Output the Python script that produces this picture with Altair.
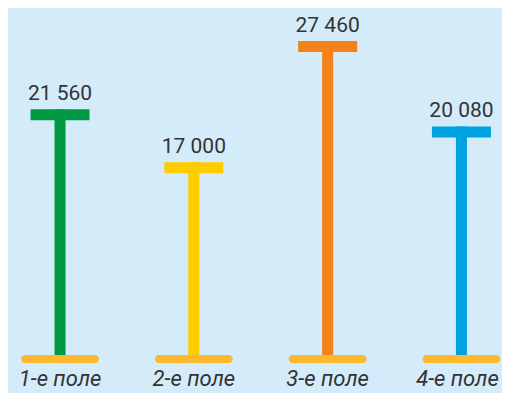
import altair as alt
import pandas as pd

fields = ["1-е поле", "2-е поле", "3-е поле", "4-е поле"]
values = [21560, 17000, 27460, 20080]
labels = ["21 560", "17 000", "27 460", "20 080"]
colors = ["#009a44", "#ffcc00", "#f28219", "#00a1e0"]

df = pd.DataFrame({"field": fields, "value": values, "label": labels, "zero": [0] * 4})

x = alt.X("field:N", sort=fields, axis=None,
          scale=alt.Scale(type="point", padding=0.346, align=0.562))
y_scale = alt.Scale(domain=[0, 30311], nice=False, zero=True)
col = alt.Color("field:N", sort=fields, scale=alt.Scale(domain=fields, range=colors), legend=None)

base = alt.Chart(df)

stem = base.mark_rule(strokeWidth=11).encode(
    x=x,
    y=alt.Y("value:Q", scale=y_scale, axis=None),
    y2="zero:Q",
    color=col,
)

cap = base.mark_tick(orient="horizontal", size=59, thickness=11, yOffset=5.5, opacity=1).encode(
    x=x,
    y=alt.Y("value:Q", scale=y_scale, axis=None),
    color=col,
)

foot = base.mark_tick(orient="horizontal", size=78, thickness=8, cornerRadius=4,
                      color="#fdb92e", opacity=1).encode(
    x=x,
    y=alt.Y("zero:Q", scale=y_scale, axis=None),
)

vlabel = base.mark_text(baseline="alphabetic", dy=-9, font="Roboto", fontSize=21,
                        color="#333333").encode(
    x=x,
    y=alt.Y("value:Q", scale=y_scale, axis=None),
    text="label:N",
)

label_style = dict(baseline="alphabetic", dy=27, font="Roboto", fontSize=22,
                   fontStyle="italic", color="#333333")

clabel = base.mark_text(**label_style).encode(
    x=x,
    y=alt.Y("zero:Q", scale=y_scale, axis=None),
    text="field:N",
).transform_filter(alt.datum.field != fields[-1])

clabel_last = base.mark_text(dx=-4, **label_style).encode(
    x=x,
    y=alt.Y("zero:Q", scale=y_scale, axis=None),
    text="field:N",
).transform_filter(alt.datum.field == fields[-1])

chart = alt.layer(stem, cap, foot, vlabel, clabel, clabel_last).properties(
    width=494, height=351,
    autosize=alt.AutoSizeParams(type="none"),
    padding={"left": 0, "top": 0, "right": 0, "bottom": 34},
    background="#d4ecfa",
).configure_view(stroke=None)

chart.save("out.html", embed_options={"renderer": "svg", "actions": False})
